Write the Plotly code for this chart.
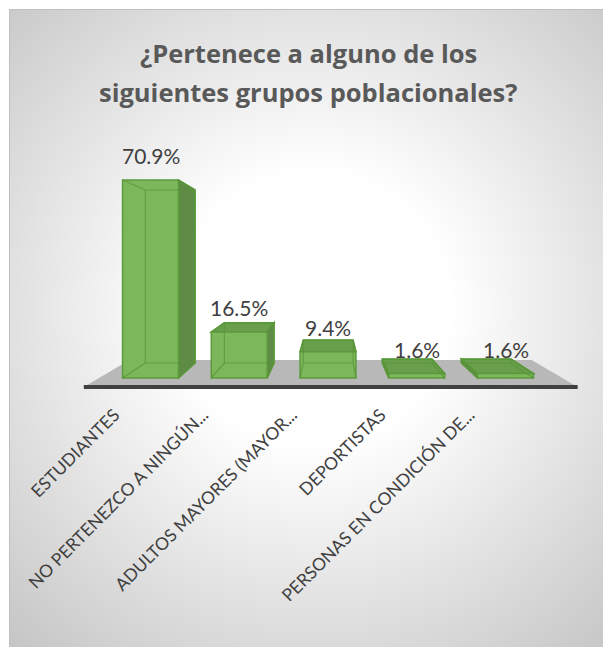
import base64
import plotly.graph_objects as go

# Survey results: share of respondents per population group
categories = [
    "ESTUDIANTES",
    "NO PERTENEZCO A NINGÚN...",
    "ADULTOS MAYORES (MAYOR...",
    "DEPORTISTAS",
    "PERSONAS EN CONDICIÓN DE...",
]
values = [70.9, 16.5, 9.4, 1.6, 1.6]
title_lines = ["¿Pertenece a alguno de los", "siguientes grupos poblacionales?"]

W, H = 603, 647
FONT = "Lato"
TITLE_FONT = "Open Sans"

# Plot geometry (pixels) used to set axis domains
X_RANGE = [-1.0, 5.0]
X_PX = [61.75, 594.25]
Y_RANGE = [-8.0, 85.0]
Y_PX = [400.34, 140.6]  # bottom, top

# Simple perspective used for the 3D look (data units)
BAR_W = 0.63
VPX, AX = 2.02, 0.11      # horizontal vanishing point, recession per unit depth
VPV, BV = 42.5, 0.1264    # vertical vanishing point (value units)
FLOOR_X = [-0.58, 4.64]
FLOOR_DEPTH = [-0.6, 1.2]

FRONT = "#7DB75B"
EDGE = "#5B9A3C"
SIDE = "#5E8C46"
TOP = "#699E4D"
INNER = "rgba(88,150,55,0.75)"
EDGE_GRAY = "#C6C6C6"


def project(x, v, d):
    return x + d * AX * (VPX - x), v + d * BV * (VPV - v)


def path(points):
    return "M " + " L ".join(f"{x:.4f},{y:.4f}" for x, y in points) + " Z"


shapes = []

# white strips above and left of the chart area
shapes.append(dict(type="rect", xref="paper", yref="paper", layer="below",
                   x0=0, x1=1, y0=1 - 9 / H, y1=1, fillcolor="white", line=dict(width=0)))
shapes.append(dict(type="rect", xref="paper", yref="paper", layer="below",
                   x0=0, x1=9 / W, y0=0, y1=1, fillcolor="white", line=dict(width=0)))
# chart area border (top and left edges)
shapes.append(dict(type="line", xref="paper", yref="paper", layer="below",
                   x0=9.5 / W, x1=1, y0=1 - 9.5 / H, y1=1 - 9.5 / H,
                   line=dict(color="#BFBFBF", width=1)))
shapes.append(dict(type="line", xref="paper", yref="paper", layer="below",
                   x0=9.5 / W, x1=9.5 / W, y0=0, y1=1 - 9.5 / H,
                   line=dict(color="#BFBFBF", width=1)))

# floor
fl = [project(FLOOR_X[0], 0, FLOOR_DEPTH[0]), project(FLOOR_X[1], 0, FLOOR_DEPTH[0]),
      project(FLOOR_X[1], 0, FLOOR_DEPTH[1]), project(FLOOR_X[0], 0, FLOOR_DEPTH[1])]
shapes.append(dict(type="path", xref="x", yref="y", path=path(fl), layer="below",
                   fillcolor="#B8B8B8", line=dict(width=0)))
shapes.append(dict(type="line", xref="x", yref="y", layer="below",
                   x0=fl[0][0], y0=fl[0][1], x1=fl[1][0], y1=fl[1][1],
                   line=dict(color="#404040", width=4)))

# side / top faces and back edges of each column
for i, v in enumerate(values):
    xl, xr = i - BAR_W / 2, i + BAR_W / 2
    f = {"lb": (xl, 0), "rb": (xr, 0), "lt": (xl, v), "rt": (xr, v)}
    b = {k: project(x, y, 1) for k, (x, y) in f.items()}
    if xr < VPX:
        shapes.append(dict(type="path", xref="x", yref="y", layer="below",
                           path=path([f["rt"], b["rt"], b["rb"], f["rb"]]),
                           fillcolor=SIDE, line=dict(color=EDGE, width=1.5)))
    if xl > VPX:
        shapes.append(dict(type="path", xref="x", yref="y", layer="below",
                           path=path([f["lt"], b["lt"], b["lb"], f["lb"]]),
                           fillcolor=SIDE, line=dict(color=EDGE, width=1.5)))
    if v < VPV:
        shapes.append(dict(type="path", xref="x", yref="y", layer="below",
                           path=path([f["lt"], f["rt"], b["rt"], b["lt"]]),
                           fillcolor=TOP, line=dict(color=EDGE, width=1.5)))
    # edges seen through the translucent front face
    for p, q in [(b["lb"], b["rb"]), (b["lb"], b["lt"]), (b["lt"], b["rt"]),
                 (b["rb"], b["rt"]), (f["lb"], b["lb"]), (f["lt"], b["lt"]),
                 (f["rb"], b["rb"]), (f["rt"], b["rt"])]:
        shapes.append(dict(type="line", xref="x", yref="y", layer="above",
                           x0=p[0], y0=p[1], x1=q[0], y1=q[1],
                           line=dict(color=INNER, width=1.2)))

# radial background gradient over the chart area
gw, gh = W - 9, H - 9
svg = (f'<svg xmlns="http://www.w3.org/2000/svg" width="{gw}" height="{gh}" '
       f'viewBox="0 0 {gw} {gh}" preserveAspectRatio="none">'
       f'<defs><radialGradient id="g" cx="305" cy="300" r="450" gradientUnits="userSpaceOnUse">'
       f'<stop offset="0" stop-color="#ffffff"/><stop offset="0.3" stop-color="#ffffff"/>'
       f'<stop offset="1" stop-color="{EDGE_GRAY}"/></radialGradient></defs>'
       f'<rect width="{gw}" height="{gh}" fill="url(#g)"/></svg>')
bg_src = "data:image/svg+xml;base64," + base64.b64encode(svg.encode()).decode()

fig = go.Figure()
fig.add_trace(go.Bar(
    x=list(range(len(values))), y=values, width=BAR_W,
    marker=dict(color=FRONT, line=dict(color=EDGE, width=1.5)),
    hoverinfo="skip",
))

annotations = []
for i, v in enumerate(values):
    annotations.append(dict(x=i, y=v, xref="x", yref="y", text=f"{v:.1f}%",
                            showarrow=False, yanchor="middle", yshift=24,
                            font=dict(family=FONT, size=21, color="#404040")))
for k, (line, ypx) in enumerate(zip(title_lines, [53, 92])):
    annotations.append(dict(x=308 / W, y=1 - ypx / H, xref="paper", yref="paper",
                            text=f"<b>{line}</b>", showarrow=False,
                            xanchor="center", yanchor="middle",
                            font=dict(family=TITLE_FONT, size=25.5, color="#595959")))

fig.update_layout(
    width=W, height=H,
    margin=dict(l=0, r=0, t=0, b=0, autoexpand=False),
    paper_bgcolor=EDGE_GRAY,
    plot_bgcolor="rgba(0,0,0,0)",
    showlegend=False,
    shapes=shapes,
    annotations=annotations,
    images=[dict(source=bg_src, xref="paper", yref="paper", x=9 / W, y=1 - 9 / H,
                 sizex=gw / W, sizey=gh / H, xanchor="left", yanchor="top",
                 sizing="stretch", layer="below")],
    xaxis=dict(range=X_RANGE, domain=[X_PX[0] / W, X_PX[1] / W], automargin=False,
               tickvals=list(range(len(categories))), ticktext=categories,
               tickangle=-45, ticklabelshift=-36, showgrid=False, zeroline=False,
               showline=False, ticks="", fixedrange=True,
               tickfont=dict(family=FONT, size=17.5, color="#404040")),
    yaxis=dict(range=Y_RANGE, domain=[1 - Y_PX[0] / H, 1 - Y_PX[1] / H],
               visible=False, fixedrange=True, automargin=False),
)

# keep the page free of scrollbars so the figure fills the window
page_js = ("document.documentElement.style.overflow='hidden';"
           "document.body.style.overflow='hidden';")
fig.write_html("out.html", config={"displayModeBar": False}, post_script=page_js)
